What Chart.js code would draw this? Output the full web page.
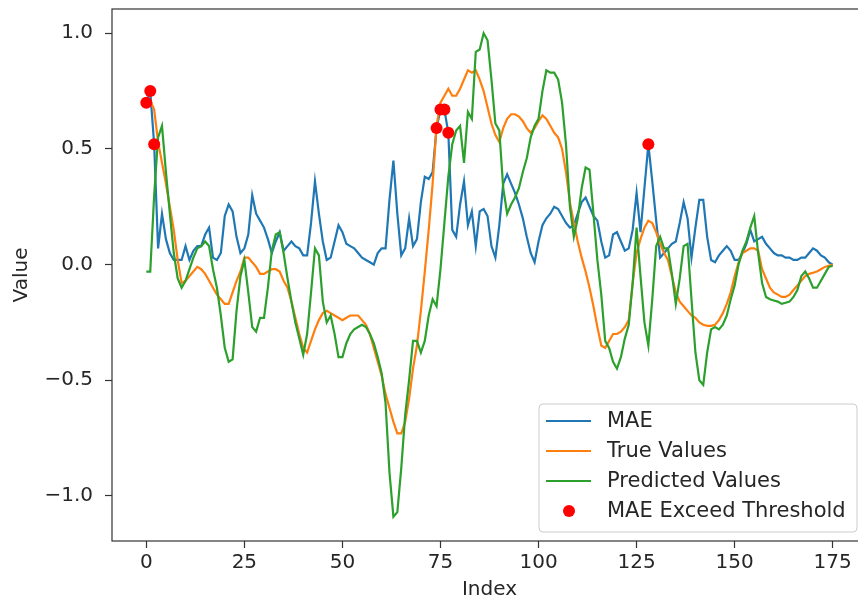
<!DOCTYPE html>
<html>
<head>
<meta charset="utf-8">
<script src="https://cdn.jsdelivr.net/npm/chart.js@4.4.1/dist/chart.umd.min.js"></script>
<style>
html, body { margin: 0; padding: 0; overflow: hidden; background: #fff; width: 858px; height: 600px; }
#wrap { width: 880px; height: 600px; }
</style>
</head>
<body>
<div id="wrap"><canvas id="c" width="880" height="600"></canvas></div>
<script>
const xTicks = [0, 25, 50, 75, 100, 125, 150, 175];
const yTicks = [-1.0, -0.5, 0.0, 0.5, 1.0];

const mae = [
0.70,0.75,0.52,0.07,0.22,0.11,0.05,0.02,0.02,0.02,
0.08,0.02,0.06,0.08,0.08,0.13,0.16,0.03,0.02,0.05,
0.21,0.26,0.23,0.12,0.05,0.07,0.13,0.30,0.22,0.19,
0.16,0.11,0.05,0.10,0.14,0.06,0.08,0.10,0.08,0.07,
0.04,0.04,0.18,0.36,0.22,0.10,0.02,0.03,0.10,0.17,
0.14,0.09,0.08,0.07,0.05,0.03,0.02,0.01,0.00,0.05,
0.07,0.07,0.28,0.45,0.22,0.04,0.07,0.20,0.08,0.11,
0.27,0.38,0.37,0.40,0.59,0.67,0.67,0.57,0.15,0.12,
0.26,0.36,0.17,0.23,0.08,0.23,0.24,0.21,0.08,0.03,
0.17,0.35,0.39,0.35,0.31,0.26,0.20,0.12,0.05,0.01,
0.10,0.17,0.20,0.22,0.25,0.24,0.21,0.18,0.16,0.17,
0.22,0.27,0.29,0.25,0.21,0.19,0.10,0.03,0.04,0.13,
0.14,0.10,0.06,0.07,0.15,0.31,0.14,0.33,0.52,0.36,
0.19,0.03,0.05,0.07,0.09,0.10,0.18,0.27,0.20,0.03,
0.16,0.28,0.28,0.12,0.02,0.01,0.04,0.06,0.08,0.06,
0.02,0.02,0.05,0.09,0.15,0.10,0.11,0.12,0.09,0.07,
0.05,0.04,0.04,0.03,0.03,0.02,0.02,0.03,0.03,0.05,
0.07,0.06,0.04,0.03,0.01,0.00
];

const trueValues = [
0.70,0.71,0.67,0.53,0.44,0.35,0.25,0.15,0.02,-0.08,
-0.07,-0.05,-0.03,-0.01,-0.02,-0.04,-0.07,-0.10,-0.13,-0.15,
-0.17,-0.17,-0.12,-0.07,-0.03,0.03,0.03,0.01,-0.01,-0.04,
-0.04,-0.03,-0.02,-0.02,-0.03,-0.07,-0.10,-0.16,-0.23,-0.30,
-0.36,-0.38,-0.33,-0.28,-0.24,-0.21,-0.20,-0.21,-0.22,-0.23,
-0.24,-0.23,-0.22,-0.22,-0.22,-0.24,-0.26,-0.30,-0.36,-0.42,
-0.48,-0.56,-0.62,-0.68,-0.73,-0.73,-0.68,-0.58,-0.45,-0.35,
-0.20,-0.03,0.15,0.35,0.60,0.70,0.73,0.76,0.73,0.73,
0.76,0.80,0.84,0.83,0.84,0.80,0.75,0.68,0.61,0.56,
0.53,0.59,0.63,0.65,0.65,0.64,0.62,0.59,0.57,0.59,
0.62,0.645,0.63,0.60,0.57,0.55,0.50,0.40,0.27,0.18,
0.10,0.03,-0.03,-0.10,-0.18,-0.27,-0.35,-0.36,-0.33,-0.30,
-0.30,-0.29,-0.27,-0.24,-0.08,0.05,0.11,0.16,0.19,0.18,
0.14,0.09,0.05,0.02,-0.05,-0.12,-0.16,-0.18,-0.20,-0.22,
-0.23,-0.25,-0.26,-0.265,-0.265,-0.26,-0.24,-0.21,-0.17,-0.12,
-0.05,0.01,0.05,0.06,0.07,0.07,0.06,-0.02,-0.06,-0.10,
-0.12,-0.13,-0.14,-0.14,-0.13,-0.11,-0.09,-0.07,-0.05,-0.04,
-0.035,-0.03,-0.02,-0.01,-0.005,0.00
];

const predictedValues = [
-0.03,-0.03,0.30,0.55,0.60,0.40,0.22,0.05,-0.06,-0.10,
-0.07,-0.02,0.03,0.07,0.08,0.10,0.08,-0.02,-0.10,-0.22,
-0.36,-0.42,-0.41,-0.20,-0.05,0.02,-0.12,-0.27,-0.29,-0.23,
-0.23,-0.10,0.06,0.13,0.14,0.05,-0.06,-0.16,-0.25,-0.32,
-0.39,-0.30,-0.12,0.07,0.04,-0.16,-0.25,-0.22,-0.30,-0.40,
-0.40,-0.34,-0.30,-0.28,-0.27,-0.26,-0.27,-0.30,-0.34,-0.40,
-0.47,-0.60,-0.90,-1.09,-1.07,-0.88,-0.65,-0.50,-0.33,-0.33,
-0.38,-0.33,-0.22,-0.15,-0.18,-0.02,0.18,0.38,0.52,0.58,
0.60,0.44,0.66,0.63,0.92,0.93,1.00,0.97,0.80,0.61,
0.58,0.33,0.22,0.26,0.29,0.33,0.40,0.46,0.55,0.60,
0.63,0.75,0.84,0.83,0.83,0.80,0.70,0.52,0.25,0.12,
0.20,0.33,0.42,0.41,0.22,0.02,-0.13,-0.33,-0.36,-0.42,
-0.45,-0.40,-0.32,-0.26,-0.08,0.16,-0.05,-0.25,-0.35,-0.15,
0.08,0.12,0.07,0.07,-0.04,-0.17,-0.06,0.08,0.09,-0.15,
-0.38,-0.50,-0.52,-0.38,-0.28,-0.27,-0.28,-0.26,-0.22,-0.15,
-0.09,0.00,0.06,0.10,0.16,0.21,0.05,-0.08,-0.14,-0.15,
-0.155,-0.16,-0.17,-0.165,-0.16,-0.14,-0.11,-0.05,-0.03,-0.06,
-0.10,-0.10,-0.07,-0.04,-0.01,-0.005
];

const exceedIndex = [0, 1, 2, 74, 75, 76, 77, 128];

const FONT = "'DejaVu Sans', 'Liberation Sans', sans-serif";
const TEXT = '#262626';

const toXY = arr => arr.map((v, i) => ({ x: i, y: v }));
const exceedPoints = exceedIndex.map(i => ({ x: i, y: mae[i] }));

const frameAndLegend = {
  id: 'frameAndLegend',
  afterDatasetsDraw(chart) {
    const { ctx, chartArea: a } = chart;
    ctx.save();
    ctx.strokeStyle = '#333';
    ctx.lineWidth = 1.2;
    ctx.strokeRect(a.left, a.top, a.right - a.left, a.bottom - a.top);
    ctx.restore();
  },
  afterDraw(chart) {
    const { ctx, chartArea: a } = chart;
    const w = 318, h = 128;
    const x1 = Math.min(a.right - 9, 857), y1 = a.bottom - 9;
    const x0 = x1 - w, y0 = y1 - h;
    ctx.save();
    ctx.beginPath();
    ctx.roundRect(x0, y0, w, h, 4);
    ctx.fillStyle = 'rgba(255,255,255,0.8)';
    ctx.fill();
    ctx.strokeStyle = '#cccccc';
    ctx.lineWidth = 1;
    ctx.stroke();
    const rowH = 30;
    const firstY = y0 + 17;
    chart.data.datasets.forEach((ds, k) => {
      const cy = firstY + k * rowH;
      if (ds.type === 'scatter') {
        ctx.beginPath();
        ctx.arc(x0 + 30, cy, 6, 0, Math.PI * 2);
        ctx.fillStyle = ds.backgroundColor;
        ctx.fill();
      } else {
        ctx.beginPath();
        ctx.moveTo(x0 + 7, cy);
        ctx.lineTo(x0 + 52, cy);
        ctx.strokeStyle = ds.borderColor;
        ctx.lineWidth = 2.2;
        ctx.stroke();
      }
      ctx.fillStyle = TEXT;
      ctx.font = '21px ' + FONT;
      ctx.textBaseline = 'middle';
      ctx.textAlign = 'left';
      ctx.fillText(ds.label, x0 + 68, cy + 1);
    });
    ctx.restore();
  }
};

new Chart(document.getElementById('c'), {
  type: 'line',
  data: {
    datasets: [
      { label: 'MAE', data: toXY(mae), borderColor: '#1f77b4', backgroundColor: '#1f77b4', borderWidth: 2.2, pointRadius: 0, tension: 0, order: 3 },
      { label: 'True Values', data: toXY(trueValues), borderColor: '#ff7f0e', backgroundColor: '#ff7f0e', borderWidth: 2.2, pointRadius: 0, tension: 0, order: 2 },
      { label: 'Predicted Values', data: toXY(predictedValues), borderColor: '#2ca02c', backgroundColor: '#2ca02c', borderWidth: 2.2, pointRadius: 0, tension: 0, order: 1 },
      { type: 'scatter', label: 'MAE Exceed Threshold', data: exceedPoints, backgroundColor: '#ff0000', borderColor: '#e00000', borderWidth: 0, pointRadius: 6, order: 0 }
    ]
  },
  options: {
    responsive: false,
    animation: false,
    devicePixelRatio: 1,
    layout: { padding: { top: 9, right: 13, bottom: 0, left: 0 } },
    plugins: { legend: { display: false }, tooltip: { enabled: false } },
    scales: {
      x: {
        type: 'linear',
        min: -8.75,
        max: 183.75,
        afterBuildTicks: s => { s.ticks = xTicks.map(v => ({ value: v })); },
        afterFit: s => { s.height = 59; s.paddingLeft = 0; s.paddingRight = 0; s.paddingTop = 0; s.paddingBottom = 0; },
        grid: { drawOnChartArea: false, drawTicks: true, tickLength: 7, tickColor: '#333', tickWidth: 1.2 },
        border: { display: false },
        ticks: { color: TEXT, font: { family: FONT, size: 20 }, padding: 3, maxRotation: 0, callback: v => String(v) },
        title: { display: true, text: 'Index', color: TEXT, font: { family: FONT, size: 20, lineHeight: 1.0 }, padding: { top: 0, bottom: 0 } }
      },
      y: {
        type: 'linear',
        min: -1.195,
        max: 1.105,
        afterBuildTicks: s => { s.ticks = yTicks.map(v => ({ value: v })); },
        afterFit: s => { s.width = 112; s.paddingLeft = 0; s.paddingRight = 0; s.paddingTop = 0; s.paddingBottom = 0; },
        grid: { drawOnChartArea: false, drawTicks: true, tickLength: 7, tickColor: '#333', tickWidth: 1.2 },
        border: { display: false },
        ticks: { color: TEXT, font: { family: FONT, size: 20 }, padding: 12,
          callback: v => (v < 0 ? '\u2212' + Math.abs(v).toFixed(1) : Math.abs(v).toFixed(1)) },
        title: { display: true, text: 'Value', color: TEXT, font: { family: FONT, size: 20, lineHeight: 1.0 }, padding: { top: 12, bottom: 0 } }
      }
    }
  },
  plugins: [frameAndLegend]
});
</script>
</body>
</html>
